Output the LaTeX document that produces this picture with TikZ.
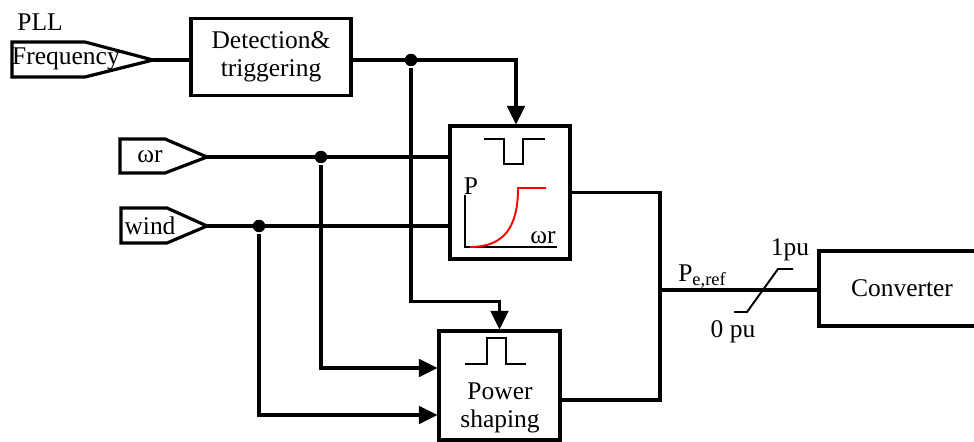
\documentclass[tikz,border=0pt]{standalone}
\usepackage{fontspec}
\setmainfont{Liberation Serif}
\usetikzlibrary{arrows.meta,calc}
\begin{document}
\begin{tikzpicture}[x = 0.02cm, y = -0.02cm, line width = 1.8pt,
		font = \fontsize{14.5}{16}\selectfont,
		block/.style = {draw, rectangle, inner sep = 0pt},
		dot/.style = {circle, fill = black, inner sep = 0pt, minimum size = 0.25cm},
		arr/.style = {-{Triangle[length = 10.5pt, width = 10pt]}}]
				\tikzstyle{thin line}=[line width = 1.1pt]
				\useasboundingbox (0,0) rectangle (974,442);
				\draw (12,42) -- (85,42) -- (153,60) -- (85,77) -- (12,77) -- cycle;
				\draw (120,139) -- (165,139) -- (207,157) -- (165,173) -- (120,173) -- cycle;
				\draw (121,208) -- (167,208) -- (207,226) -- (167,243) -- (121,243) -- cycle;
				\coordinate (freq) at (153,60);
				\coordinate (wr) at (207,157);
				\coordinate (wind) at (207,226);
				\coordinate (sum) at (660,290);
				\node at (40,22) {PLL};
				\node at (66,59) {Frequency};
				\node at (150,157) {ωr};
				\node at (150,226) {wind};
				\node (det) [block, minimum width = 3.2cm, minimum height = 1.54cm, align = center] at (271,57) {Detection\&\\triggering};
				\node (ctrl) [block, minimum width = 2.4cm, minimum height = 2.66cm] at (510,192.5) {};
				\node (shape) [block, minimum width = 2.42cm, minimum height = 2.18cm] at (499.5,385.5) {};
				\node (conv) [block, minimum width = 3.32cm, minimum height = 1.5cm] at (902,288.5) {Converter};
				\node [align = center] at (500,408) {Power\\shaping};
				\node (j1) [dot] at (411,60) {};
				\node (j2) [dot] at (321,157) {};
				\node (j3) [dot] at (259,226) {};
				\draw (freq) -- (freq -| det.west);
				\draw[arr] (det.east |- freq) -| ([xshift = 0.12cm]ctrl.north);
				\draw[arr] (j1) |- ([yshift = 0.56cm]shape.north) -| (shape.north);
				\draw (wr) -- (wr -| ctrl.west);
				\draw (wind) -- (wind -| ctrl.west);
				\draw[arr] (j2) |- ([yshift = 0.35cm]shape.west);
				\draw[arr] (j3) |- ([yshift = -0.59cm]shape.west);
				\draw (ctrl.east) -| (sum);
				\draw ([yshift = -0.29cm]shape.east) -| (sum);
				\draw (sum) -- (sum -| conv.west);
				\draw[style = thin line] (484,139) -- (504,139) -- (504,164) -- (523,164) -- (523,139) -- (545,139);
				\draw[style = thin line] (465,195) -- (465,247) -- (557,247);
				\draw[style = thin line, red] (470,247) .. controls (505,247) and (518,226) .. (518,188) -- (546,188);
				\node at (471,186) {P};
				\node at (543,238) {ωr};
				\draw[style = thin line] (465,364) -- (487,364) -- (487,338) -- (506,338) -- (506,364) -- (526,364);
				\draw[style = thin line] (734,312) -- (747,312) -- (778,269) -- (793,269);
				\node at (702,277) {P\raisebox{-0.35ex}{\fontsize{10.5}{11}\selectfont e,ref}};
				\node at (790,250) {1pu};
				\node at (733,332) {0 pu};
				\end{tikzpicture}
\end{document}
